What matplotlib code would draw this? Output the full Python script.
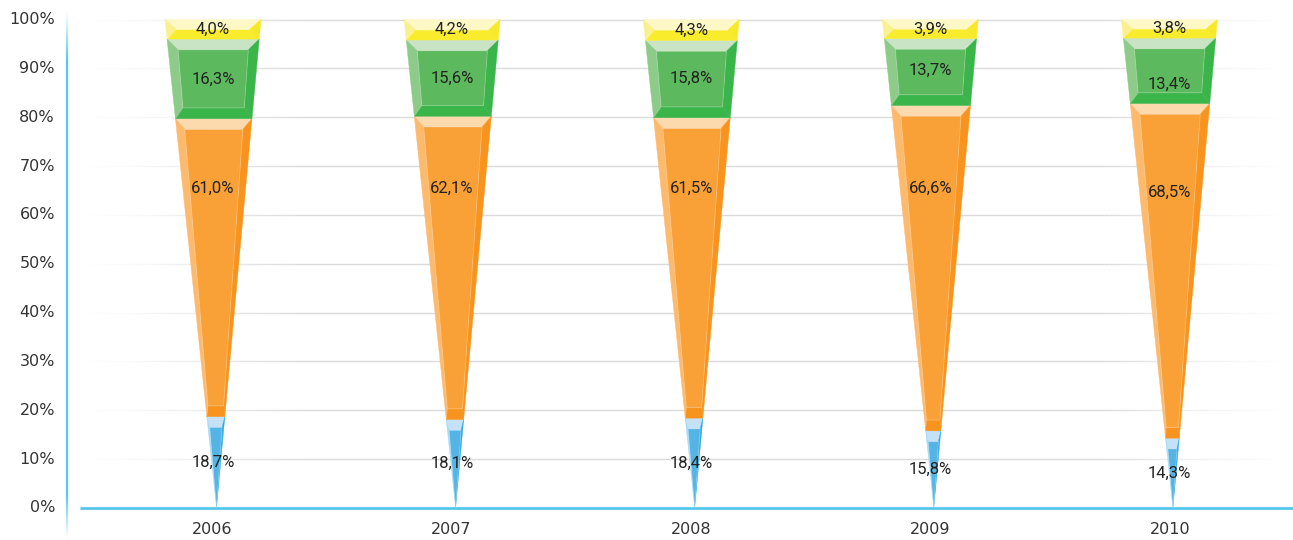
# coding: utf-8

import numpy as np
import matplotlib
matplotlib.use("Agg")
import matplotlib.pyplot as plt
from matplotlib.collections import LineCollection
from matplotlib.patches import Polygon

#==========
# Data

years = ["2006", "2007", "2008", "2009", "2010"]
blue = [18.7, 18.1, 18.4, 15.8, 14.3]
orange = [61.0, 62.1, 61.5, 66.6, 68.5]
green = [16.3, 15.6, 15.8, 13.7, 13.4]
yellow = [4.0, 4.2, 4.3, 3.9, 3.8]
y_ticks = [0, 10, 20, 30, 40, 50, 60, 70, 80, 90, 100]

# colours of one section: main, top, left, right, bottom
blue_cols = ["#55B4E6", "#C4E1F6", "#A5DBF6", "#27AAE1", "#55B4E6"]
orange_cols = ["#F9A137", "#FDD9AE", "#FDB96C", "#F8941D", "#F8941D"]
green_cols = ["#5DB95D", "#C9E4C5", "#8DCB88", "#3AB54A", "#3AB54A"]
yellow_cols = ["#F9EC2C", "#FDF8C6", "#FBF08E", "#F7E92A", "#F9EC2C"]

# the orange labels and the last green one do not sit in the middle of their section
orange_label_y = [65.5, 65.5, 65.5, 65.5, 64.7]
green_label_y = [87.8, 88.0, 87.9, 89.5, 86.8]

W, H = 1293, 540
X0, STEP = 216.5, 239.1   # pixel position of first apex, apex spacing
Y0, Y100 = 508.0, 19.5    # pixel position of 0% and 100%
HALF = 48.0               # half width of the cone at 100%, pixels
LEAN = 3.5                # cone top sits this far left of the apex, pixels
INNER = 0.78              # inner face width relative to the outer one
BEVEL = 2.2               # height of top and bottom faces, percent

def px(x):
	return (x - X0) / STEP

def section(ax, i, y1, y2, cols, bottom_face=True):
	def pt(y, side, k=1.0):
		centre = i - LEAN / STEP * y / 100.0
		return (centre + side * k * HALF / STEP * y / 100.0, y)
	b = min(BEVEL, (y2 - y1) / 2.0)
	yb = y1 + b if bottom_face else y1
	yt = y2 - b
	faces = [
		([pt(y1, -1), pt(y1, 1), pt(yb, 1, INNER), pt(yb, -1, INNER)], cols[4]),
		([pt(y2, -1), pt(y2, 1), pt(yt, 1, INNER), pt(yt, -1, INNER)], cols[1]),
		([pt(y1, -1), pt(yb, -1, INNER), pt(yt, -1, INNER), pt(y2, -1)], cols[2]),
		([pt(y1, 1), pt(yb, 1, INNER), pt(yt, 1, INNER), pt(y2, 1)], cols[3]),
	]
	for pts, c in faces:
		ax.add_patch(Polygon(pts, closed=True, fc=c, ec=c, lw=0.3, zorder=3))
	# main face, with the thin light rim it has in the original
	main = [pt(yb, -1, INNER), pt(yb, 1, INNER), pt(yt, 1, INNER), pt(yt, -1, INNER)]
	ax.add_patch(Polygon(main, closed=True, fc=cols[0], ec=(1, 1, 1, 0.22), lw=0.7, zorder=3.5))

def fade_line(ax, pts, alphas, rgb, lw, zorder):
	segs = [[pts[j], pts[j + 1]] for j in range(len(pts) - 1)]
	cols = [rgb + (a,) for a in alphas]
	ax.add_collection(LineCollection(segs, colors=cols, linewidths=lw, zorder=zorder))

def main():
	fig = plt.figure(figsize=(W / 100, H / 100), dpi=100)
	# axes span the whole figure, limits set so that data lands on the right pixels
	ax = fig.add_axes([0, 0, 1, 1])
	ax.set_xlim(px(0), px(W))
	per_px = 100.0 / (Y0 - Y100)
	ax.set_ylim((Y0 - H) * per_px, Y0 * per_px)
	ax.axis("off")

	# Grid
	xs_px = np.linspace(85, 1280, 300)
	alpha = np.interp((xs_px[:-1] + xs_px[1:]) / 2, [85, 120, 200, 300, 1100, 1180, 1280], [0, 0.1, 0.45, 1, 1, 0.45, 0])
	for t in y_ticks[1:]:
		fade_line(ax, [(px(x), t) for x in xs_px], alpha, (0.85, 0.85, 0.85), 1.0, 1)

	# Axes lines
	ax.plot([px(80), px(W)], [0, 0], color="#55C6EC", lw=2, zorder=2, solid_capstyle="butt")
	ys_px = np.linspace(12, 538, 200)
	alpha = np.interp((ys_px[:-1] + ys_px[1:]) / 2, [12, 60, 495, 538], [0, 1, 1, 0])
	fade_line(ax, [(px(67), (Y0 - y) * per_px) for y in ys_px], alpha, (0.33, 0.79, 0.96), 1.6, 2)

	# Cones
	for i in range(len(years)):
		b = blue[i]
		o = b + orange[i]
		g = o + green[i]
		section(ax, i, 0, b, blue_cols, bottom_face=False)
		section(ax, i, b, o, orange_cols)
		section(ax, i, o, g, green_cols)
		section(ax, i, g, 100, yellow_cols)

		# Value labels
		label_pos = [b / 2.0, orange_label_y[i], green_label_y[i], g + yellow[i] / 2.0]
		for val, pos in zip([blue[i], orange[i], green[i], yellow[i]], label_pos):
			txt = ("%.1f%%" % val).replace(".", ",")
			ax.text(i + px(213) - px(X0), pos, txt, ha="center", va="center", fontsize=12,
				color="#222222", zorder=5, family=["Liberation Sans Narrow", "Roboto"])

		# Year label
		ax.text(px(212 + 239.5 * i), (Y0 - 529) * per_px, years[i], ha="center", va="center",
			fontsize=11.5, color="#333333")

	# Y tick labels
	for t in y_ticks:
		ax.text(px(55), t, "%d%%" % t, ha="right", va="center", fontsize=11.5, color="#333333")

	fig.savefig("out.png", dpi=100)

if __name__ == "__main__":
	main()
